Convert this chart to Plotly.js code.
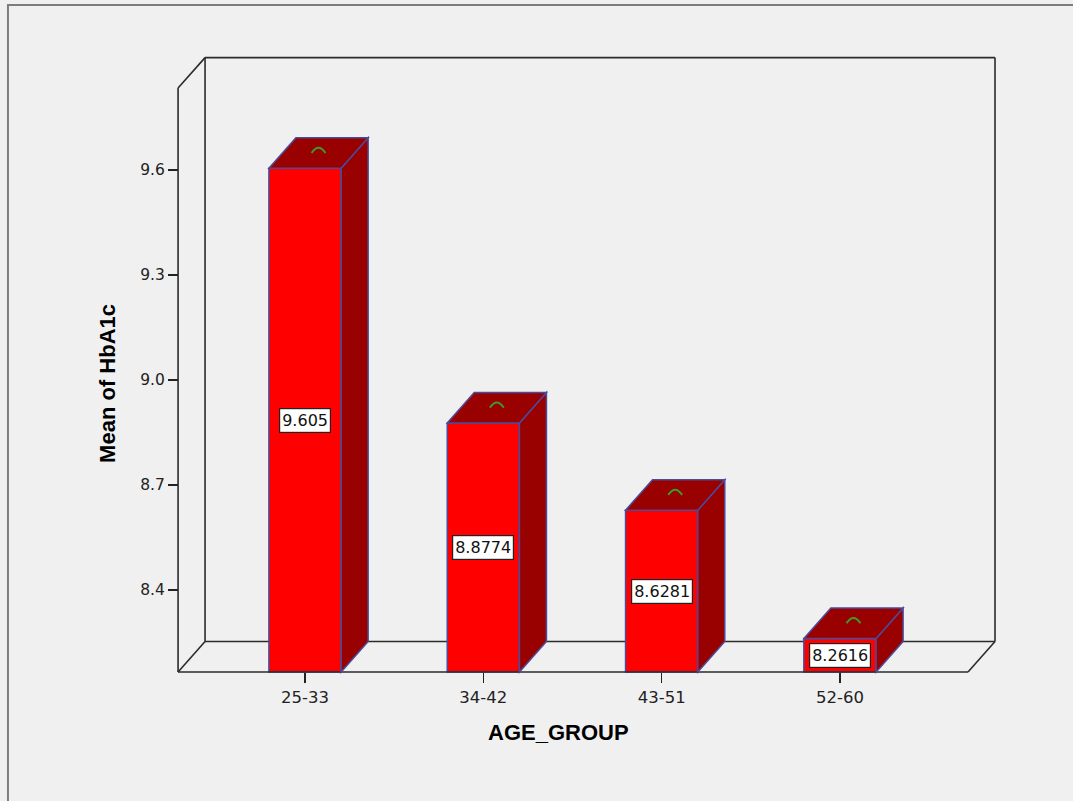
<!DOCTYPE html>
<html>
<head>
<meta charset="utf-8">
<script src="https://cdn.plot.ly/plotly-3.0.1.min.js"></script>
<style>
  html, body { margin: 0; padding: 0; background: #f0f0f0; }
  #chart { width: 1073px; height: 801px; }
</style>
</head>
<body>
<div id="chart"></div>
<script>
// ---- data ----
const categories = ['25-33', '34-42', '43-51', '52-60'];
const meanHbA1c = [9.605, 8.8774, 8.6281, 8.2616];
const yTickVals = [8.4, 8.7, 9.0, 9.3, 9.6];

// ---- geometry / style constants (3D box look) ----
const FLOOR = 8.1657;      // front floor value
const FRONT_TOP = 9.834;   // top of front vertical edge
const FL = -0.712;         // front left x
const FR = 3.718;          // front right x
const DX = 0.1514;         // depth offset in x units
const DY = 0.0871;         // depth offset in y units
const BAR_W = 0.405;
const FACE = '#ff0000';
const DARK = '#990000';
const EDGE = '#4b4b9b';
const WALL = '#2b2b2b';

const xPos = categories.map((c, i) => i);

const trace = {
  type: 'bar',
  x: xPos,
  y: meanHbA1c.map(v => v - FLOOR),
  base: FLOOR,
  width: BAR_W,
  marker: { color: FACE, line: { color: EDGE, width: 1.5 } },
  hoverinfo: 'skip'
};

const shapes = [];
function line(x0, y0, x1, y1, layer) {
  shapes.push({ type: 'line', xref: 'x', yref: 'y', x0, y0, x1, y1, layer: layer,
    line: { color: WALL, width: 1.6 } });
}
const BL = FL + DX, BR = FR + DX;
// back wall
line(BL, FLOOR + DY, BL, FRONT_TOP + DY, 'below');
line(BL, FRONT_TOP + DY, BR, FRONT_TOP + DY, 'below');
line(BR, FRONT_TOP + DY, BR, FLOOR + DY, 'below');
line(BL, FLOOR + DY, BR, FLOOR + DY, 'below');
// front edges
line(FL, FLOOR, FL, FRONT_TOP, 'above');
line(FL, FRONT_TOP, BL, FRONT_TOP + DY, 'above');
line(FL, FLOOR, BL, FLOOR + DY, 'above');
line(FL, FLOOR, FR, FLOOR, 'above');
line(FR, FLOOR, BR, FLOOR + DY, 'above');

// bar side + top faces, and arcs
xPos.forEach((xc, i) => {
  const v = meanHbA1c[i];
  const x0 = xc - BAR_W / 2, x1 = xc + BAR_W / 2;
  shapes.push({ type: 'path', xref: 'x', yref: 'y', layer: 'above',
    path: `M ${x1},${FLOOR} L ${x1},${v} L ${x1 + DX},${v + DY} L ${x1 + DX},${FLOOR + DY} Z`,
    fillcolor: DARK, line: { color: EDGE, width: 1.5 } });
  shapes.push({ type: 'path', xref: 'x', yref: 'y', layer: 'above',
    path: `M ${x0},${v} L ${x1},${v} L ${x1 + DX},${v + DY} L ${x0 + DX},${v + DY} Z`,
    fillcolor: DARK, line: { color: EDGE, width: 1.5 } });
  const cx = xc + DX / 2, cy = v + DY / 2;
  shapes.push({ type: 'path', xref: 'x', yref: 'y', layer: 'above',
    path: `M ${cx - 0.039},${cy} Q ${cx},${cy + 0.03} ${cx + 0.039},${cy}`,
    line: { color: '#3f9a2a', width: 2 } });
});

// outer frame
shapes.push({ type: 'rect', xref: 'paper', yref: 'paper',
  x0: -0.1912, x1: 1.1, y0: -0.25, y1: 1.0661,
  line: { color: '#7d7d7d', width: 2 }, fillcolor: 'rgba(0,0,0,0)', layer: 'below' });

const annotations = xPos.map((xc, i) => ({
  x: xc, y: (meanHbA1c[i] + FLOOR) / 2, xref: 'x', yref: 'y',
  text: String(meanHbA1c[i]), showarrow: false,
  font: { family: 'DejaVu Sans', size: 16, color: '#111' },
  bgcolor: '#ffffff', bordercolor: '#222222', borderwidth: 1.2, borderpad: 2
}));
annotations.push({
  xref: 'paper', yref: 'paper', x: 0.467, y: -0.0803, xanchor: 'center', yanchor: 'middle',
  text: 'AGE_GROUP', showarrow: false,
  font: { family: 'Liberation Sans, Arial, sans-serif', size: 22, color: '#000', weight: 'bold' }
});
annotations.push({
  xref: 'paper', yref: 'paper', x: -0.0717, y: 0.471, xanchor: 'center', yanchor: 'middle',
  text: 'Mean of HbA1c', textangle: -90, showarrow: false,
  font: { family: 'Liberation Sans, Arial, sans-serif', size: 22, color: '#000', weight: 'bold' }
});

const layout = {
  width: 1073, height: 801,
  margin: { l: 168, r: 68, t: 47, b: 119, pad: 0 },
  paper_bgcolor: '#f0f0f0', plot_bgcolor: '#f0f0f0',
  showlegend: false,
  xaxis: {
    type: 'linear', range: [-0.7684, 3.9254], autorange: false,
    anchor: 'free', position: 10 / 635,
    tickvals: xPos, ticktext: categories,
    ticks: 'outside', ticklen: 10, tickwidth: 1.5, tickcolor: '#222',
    showline: false, showgrid: false, zeroline: false,
    tickfont: { family: 'DejaVu Sans', size: 16.5, color: '#222' }
  },
  yaxis: {
    type: 'linear', range: [8.1371, 9.9514], autorange: false,
    anchor: 'free', position: 10 / 837,
    tickvals: yTickVals, tickformat: '.1f',
    ticks: 'outside', ticklen: 10, tickwidth: 1.5, tickcolor: '#222',
    showline: false, showgrid: false, zeroline: false,
    tickfont: { family: 'DejaVu Sans', size: 15.5, color: '#222' }
  },
  shapes: shapes,
  annotations: annotations
};

Plotly.newPlot('chart', [trace], layout, { displayModeBar: false, staticPlot: true });
</script>
</body>
</html>
